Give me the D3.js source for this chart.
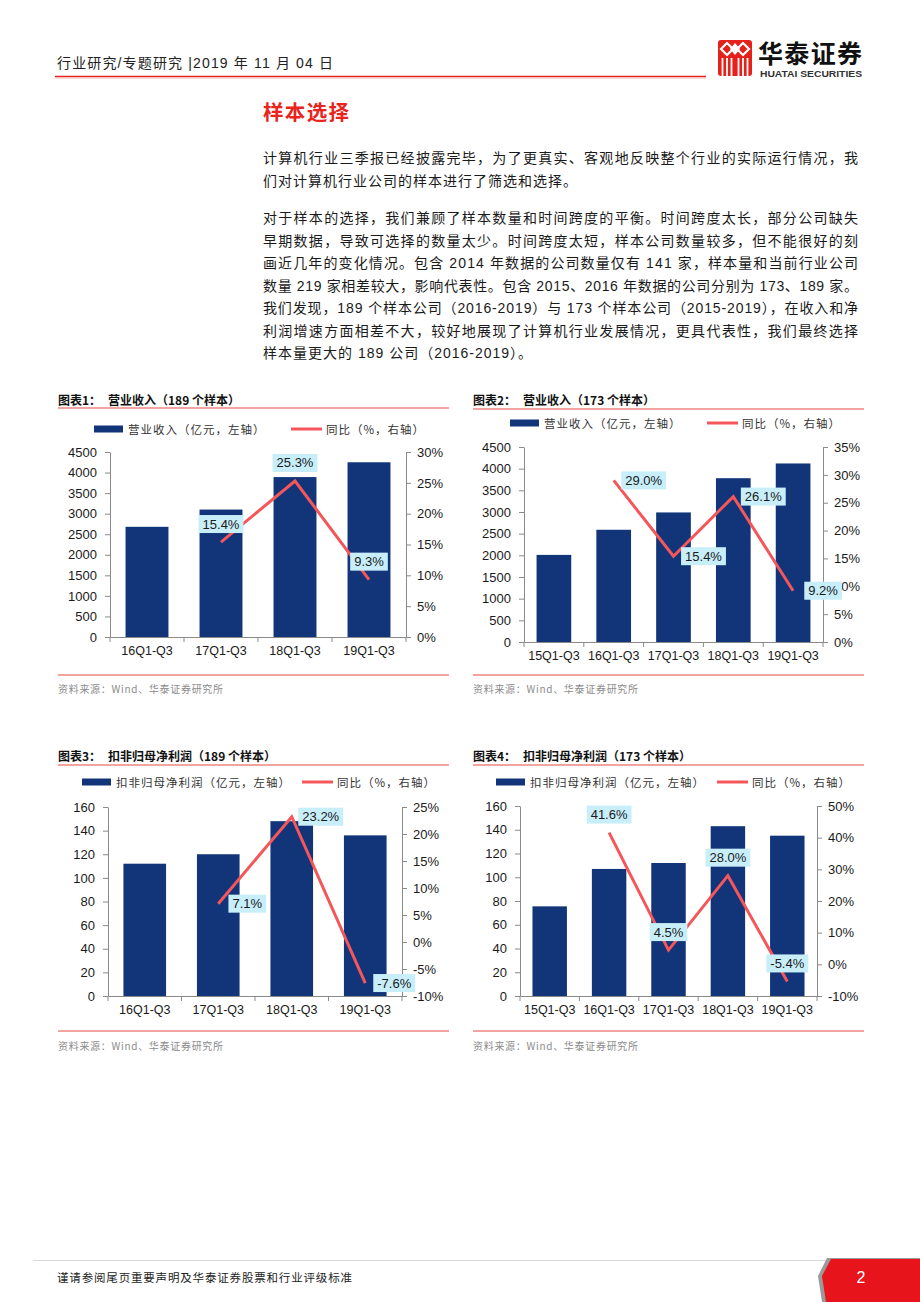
<!DOCTYPE html>
<html><head><meta charset="utf-8">
<script src="https://cdn.jsdelivr.net/npm/d3@7"></script>
<style>body{margin:0;background:#fff}svg{display:block}</style>
</head><body><svg id="page" width="920" height="1302"></svg>
<script>
// ---------- data ----------
const cats4 = ["16Q1-Q3", "17Q1-Q3", "18Q1-Q3", "19Q1-Q3"];
const cats5 = ["15Q1-Q3", "16Q1-Q3", "17Q1-Q3", "18Q1-Q3", "19Q1-Q3"];

const rev189 = [2680, 3100, 3890, 4250];
const revYoy189 = [null, 15.4, 25.3, 9.3];
const rev173 = [2010, 2590, 2990, 3780, 4120];
const revYoy173 = [null, 29.0, 15.4, 26.1, 9.2];

const np189 = [112, 120, 148, 136];
const npYoy189 = [null, 7.1, 23.2, -7.6];
const np173 = [75.5, 107, 112, 143, 135];
const npYoy173 = [null, 41.6, 4.5, 28.0, -5.4];

const revTicks = [0, 500, 1000, 1500, 2000, 2500, 3000, 3500, 4000, 4500];
const npTicks = [0, 20, 40, 60, 80, 100, 120, 140, 160];
const yoyTicks1 = [0, 5, 10, 15, 20, 25, 30];
const yoyTicks2 = [0, 5, 10, 15, 20, 25, 30, 35];
const yoyTicks3 = [-10, -5, 0, 5, 10, 15, 20, 25];
const yoyTicks4 = [-10, 0, 10, 20, 30, 40, 50];

const headerText = "行业研究/专题研究 |2019 年 11 月 04 日";
const sectionTitle = "样本选择";
const para1 = [
  "计算机行业三季报已经披露完毕，为了更真实、客观地反映整个行业的实际运行情况，我",
  "们对计算机行业公司的样本进行了筛选和选择。"
];
const para2 = [
  "对于样本的选择，我们兼顾了样本数量和时间跨度的平衡。时间跨度太长，部分公司缺失",
  "早期数据，导致可选择的数量太少。时间跨度太短，样本公司数量较多，但不能很好的刻",
  "画近几年的变化情况。包含 2014 年数据的公司数量仅有 141 家，样本量和当前行业公司",
  "数量 219 家相差较大，影响代表性。包含 2015、2016 年数据的公司分别为 173、189 家。",
  "我们发现，189 个样本公司（2016-2019）与 173 个样本公司（2015-2019），在收入和净",
  "利润增速方面相差不大，较好地展现了计算机行业发展情况，更具代表性，我们最终选择",
  "样本量更大的 189 公司（2016-2019）。"
];
const footerText = "谨请参阅尾页重要声明及华泰证券股票和行业评级标准";
const sourceText = "资料来源：Wind、华泰证券研究所";

// ---------- styles ----------
const NAVY = "#12357a";
const CORAL = "#f4565a";
const RULE = "#ef8580";
const LABELBG = "#c8eefa";
const FONT = "'Liberation Sans', Arial, 'Noto Sans CJK SC', sans-serif";
const CJK = "'Noto Sans CJK SC', 'Liberation Sans', sans-serif";

const svg = d3.select("#page");
svg.append("rect").attr("width", 920).attr("height", 1302).attr("fill", "#fff");

// ---------- header ----------
svg.append("text").attr("x", 57).attr("y", 63).attr("dominant-baseline", "central")
  .attr("font-family", FONT).attr("font-size", 14).attr("fill", "#222")
  .attr("textLength", 276).attr("lengthAdjust", "spacing").text(headerText);
svg.append("line").attr("x1", 55).attr("x2", 706).attr("y1", 76.5).attr("y2", 76.5)
  .attr("stroke", "#e4241f").attr("stroke-width", 1.6);
svg.append("line").attr("x1", 55).attr("x2", 706).attr("y1", 78).attr("y2", 78)
  .attr("stroke", "#f5b5b2").attr("stroke-width", 1);

// logo
const logo = svg.append("g");
logo.append("rect").attr("x", 718).attr("y", 40).attr("width", 34).attr("height", 36).attr("rx", 3).attr("fill", "#e5211c");
[[727, 49], [743, 49]].forEach(([cx, cy]) => {
  logo.append("path").attr("d", `M${cx},${cy - 6}L${cx + 6},${cy}L${cx},${cy + 6}L${cx - 6},${cy}Z`)
    .attr("fill", "none").attr("stroke", "#fff").attr("stroke-width", 2.2);
});
logo.append("path").attr("d", "M735,43L740,49L735,55L730,49Z").attr("fill", "#fff");
[722.5, 727, 731.5, 738.5, 743, 747.5].forEach(x => {
  logo.append("line").attr("x1", x).attr("x2", x).attr("y1", 58).attr("y2", 76)
    .attr("stroke", "#fff").attr("stroke-width", 1.8);
});
svg.append("text").attr("x", 758).attr("y", 52).attr("dominant-baseline", "central")
  .attr("font-family", CJK).attr("font-weight", "bold").attr("font-size", 25).attr("fill", "#111")
  .attr("textLength", 104).attr("lengthAdjust", "spacing").text("华泰证券");
svg.append("text").attr("x", 760).attr("y", 73.5).attr("dominant-baseline", "central")
  .attr("font-family", FONT).attr("font-weight", "bold").attr("font-size", 9.5).attr("fill", "#333")
  .attr("textLength", 102).attr("lengthAdjust", "spacingAndGlyphs").text("HUATAI SECURITIES");

// ---------- section text ----------
svg.append("text").attr("x", 263).attr("y", 111).attr("dominant-baseline", "central")
  .attr("font-family", CJK).attr("font-weight", "bold").attr("font-size", 20.5).attr("fill", "#e8241d")
  .attr("textLength", 86).attr("lengthAdjust", "spacing").text(sectionTitle);

function drawPara(lines, y0) {
  lines.forEach((s, i) => {
    const t = svg.append("text").attr("x", 263).attr("y", y0 + i * 22.5)
      .attr("dominant-baseline", "central").attr("font-family", FONT)
      .attr("font-size", 14).attr("fill", "#1a1a1a").text(s);
    if (i < lines.length - 1) t.attr("textLength", 595).attr("lengthAdjust", "spacing");
    else t.attr("letter-spacing", 1);
  });
}
drawPara(para1, 158);
drawPara(para2, 218);

// ---------- charts ----------
function drawChart(c) {
  const g = svg.append("g");
  // title
  g.append("text").attr("x", c.tx).attr("y", c.titleY).attr("dominant-baseline", "central")
    .attr("font-family", CJK).attr("font-weight", "bold").attr("font-size", 12).attr("fill", "#111")
    .text(c.titleNo);
  g.append("text").attr("x", c.tx + 50).attr("y", c.titleY).attr("dominant-baseline", "central")
    .attr("font-family", CJK).attr("font-weight", "bold").attr("font-size", 12).attr("fill", "#111")
    .text(c.title);
  g.append("line").attr("x1", c.tx).attr("x2", c.tx + 391).attr("y1", c.ulY).attr("y2", c.ulY)
    .attr("stroke", RULE).attr("stroke-width", 1.6);
  // legend
  g.append("rect").attr("x", c.barSw).attr("y", c.legY - 3.5).attr("width", 29).attr("height", 7).attr("fill", NAVY);
  g.append("text").attr("x", c.barSw + 34).attr("y", c.legY).attr("dominant-baseline", "central")
    .attr("font-family", CJK).attr("font-size", 11.5).attr("letter-spacing", 1).attr("fill", "#333").text(c.barName);
  g.append("line").attr("x1", c.lineSw).attr("x2", c.lineSw + 31).attr("y1", c.legY).attr("y2", c.legY)
    .attr("stroke", CORAL).attr("stroke-width", 3);
  g.append("text").attr("x", c.lineSw + 35).attr("y", c.legY).attr("dominant-baseline", "central")
    .attr("font-family", CJK).attr("font-size", 11.5).attr("letter-spacing", 1).attr("fill", "#333").text("同比（%，右轴）");

  // scales
  const x = d3.scaleBand().domain(c.cats).range([c.L, c.R]).paddingInner(0.42).paddingOuter(0.21);
  const yL = d3.scaleLinear().domain([c.lt[0], c.lt[c.lt.length - 1]]).range([c.B, c.T]);
  const yR = d3.scaleLinear().domain([c.rt[0], c.rt[c.rt.length - 1]]).range([c.B, c.T]);

  // bars
  g.append("g").selectAll("rect").data(c.bars).join("rect")
    .attr("x", (d, i) => x(c.cats[i])).attr("width", x.bandwidth())
    .attr("y", d => yL(d)).attr("height", d => c.B - yL(d)).attr("fill", NAVY);

  const styleAxis = sel => {
    sel.selectAll("path,line").attr("stroke", "#8a8a8a");
    sel.selectAll("text").attr("font-family", FONT).attr("font-size", 13).attr("fill", "#1a1a1a");
  };
  // left axis
  g.append("g").attr("transform", `translate(${c.L},0)`)
    .call(d3.axisLeft(yL).tickValues(c.lt).tickSize(5).tickSizeOuter(0).tickPadding(8).tickFormat(d3.format("d")))
    .call(styleAxis);
  // right axis
  g.append("g").attr("transform", `translate(${c.R},0)`)
    .call(d3.axisRight(yR).tickValues(c.rt).tickSize(5).tickSizeOuter(0).tickPadding(6).tickFormat(d => d + "%"))
    .call(styleAxis);
  // bottom axis
  const xa = g.append("g").attr("transform", `translate(0,${c.B})`)
    .call(d3.axisBottom(x).tickSize(0).tickSizeOuter(0).tickPadding(9))
    .call(styleAxis);
  xa.selectAll("text").attr("font-size", 12.5);
  const step = x.step();
  const bounds = c.cats.map(k => x(k) + x.bandwidth() / 2 - step / 2).concat([c.R]);
  g.append("g").selectAll("line").data(bounds).join("line")
    .attr("x1", d => d).attr("x2", d => d).attr("y1", c.B).attr("y2", c.B + 5)
    .attr("stroke", "#8a8a8a");

  // line
  const pts = c.yoy.map((v, i) => ({ v, cx: x(c.cats[i]) + x.bandwidth() / 2 }));
  const line = d3.line().defined(d => d.v != null).x(d => d.cx).y(d => yR(d.v));
  g.append("path").datum(pts).attr("d", line).attr("fill", "none")
    .attr("stroke", CORAL).attr("stroke-width", 3).attr("stroke-linejoin", "miter");

  // labels
  pts.filter(d => d.v != null).forEach(d => {
    const lx = d.cx + c.ldx, ly = yR(d.v) + c.ldy;
    const lg = g.append("g");
    const rect = lg.append("rect").attr("fill", LABELBG);
    const t = lg.append("text").attr("x", lx).attr("y", ly).attr("text-anchor", "middle")
      .attr("dominant-baseline", "central").attr("font-family", FONT).attr("font-size", 13)
      .attr("fill", "#1a1a1a").text(d.v.toFixed(1) + "%");
    const w = t.node().getComputedTextLength() + 8;
    rect.attr("x", lx - w / 2).attr("y", ly - 9).attr("width", w).attr("height", 18);
  });

  // bottom rule + source
  g.append("line").attr("x1", c.tx).attr("x2", c.tx + 391).attr("y1", c.ruleY).attr("y2", c.ruleY)
    .attr("stroke", RULE).attr("stroke-width", 1.6);
  g.append("text").attr("x", c.tx).attr("y", c.srcY).attr("dominant-baseline", "central")
    .attr("font-family", CJK).attr("font-size", 10).attr("letter-spacing", 0.7).attr("fill", "#8c8c8c").text(sourceText);
}

drawChart({ tx: 58, titleY: 399, ulY: 408, legY: 429, barSw: 94, lineSw: 291,
  titleNo: "图表1：", title: "营业收入（189 个样本）", barName: "营业收入（亿元，左轴）",
  L: 110, R: 406, T: 452, B: 637, cats: cats4, bars: rev189, yoy: revYoy189,
  lt: revTicks, rt: yoyTicks1, ldx: 0, ldy: -18, ruleY: 675, srcY: 688 });

drawChart({ tx: 473, titleY: 399, ulY: 409, legY: 423, barSw: 510, lineSw: 707,
  titleNo: "图表2：", title: "营业收入（173 个样本）", barName: "营业收入（亿元，左轴）",
  L: 524, R: 823, T: 447, B: 642, cats: cats5, bars: rev173, yoy: revYoy173,
  lt: revTicks, rt: yoyTicks2, ldx: 30, ldy: 0, ruleY: 675, srcY: 688 });

drawChart({ tx: 58, titleY: 755, ulY: 765, legY: 782, barSw: 82, lineSw: 302,
  titleNo: "图表3：", title: "扣非归母净利润（189 个样本）", barName: "扣非归母净利润（亿元，左轴）",
  L: 108, R: 402, T: 807, B: 996, cats: cats4, bars: np189, yoy: npYoy189,
  lt: npTicks, rt: yoyTicks3, ldx: 29, ldy: 0, ruleY: 1031, srcY: 1045 });

drawChart({ tx: 473, titleY: 755, ulY: 765, legY: 782, barSw: 496, lineSw: 717,
  titleNo: "图表4：", title: "扣非归母净利润（173 个样本）", barName: "扣非归母净利润（亿元，左轴）",
  L: 520, R: 817, T: 806, B: 996, cats: cats5, bars: np173, yoy: npYoy173,
  lt: npTicks, rt: yoyTicks4, ldx: 0, ldy: -18, ruleY: 1031, srcY: 1045 });

// ---------- footer ----------
svg.append("line").attr("x1", 33).attr("x2", 830).attr("y1", 1260.5).attr("y2", 1260.5)
  .attr("stroke", "#d8d8d8").attr("stroke-width", 1);
svg.append("text").attr("x", 57).attr("y", 1277).attr("dominant-baseline", "central")
  .attr("font-family", CJK).attr("font-size", 11.5).attr("fill", "#222")
  .attr("textLength", 295).attr("lengthAdjust", "spacing").text(footerText);
svg.append("path").attr("d", "M827,1258L920,1258L920,1302L822,1302L818,1276Z").attr("fill", "#9a9a9a");
svg.append("path").attr("d", "M831,1259L920,1259L920,1302L826,1302L822,1276Z").attr("fill", "#e8141b");
svg.append("text").attr("x", 861).attr("y", 1277).attr("text-anchor", "middle").attr("dominant-baseline", "central")
  .attr("font-family", FONT).attr("font-size", 16).attr("fill", "#fff").text("2");
</script></body></html>
